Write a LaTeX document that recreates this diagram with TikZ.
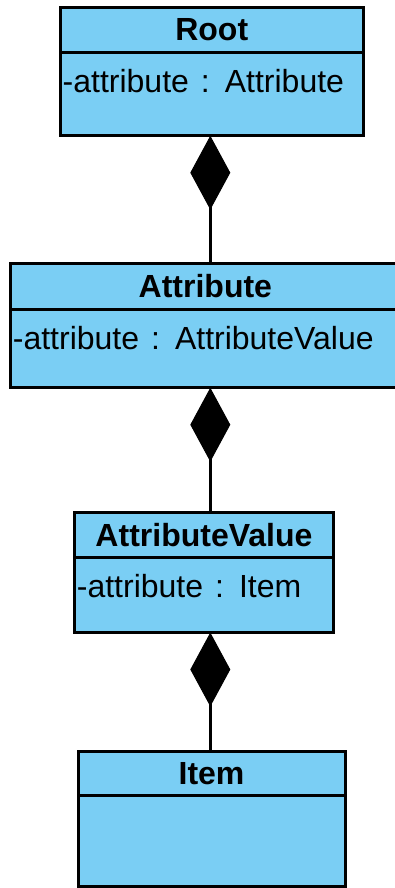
\documentclass[tikz,border=0pt]{standalone}
\usepackage{fontspec}
\setmainfont{Liberation Sans}
\newfontfamily\memberfont[WordSpace=1.35]{Liberation Sans}
\usetikzlibrary{positioning, arrows.meta}
\definecolor{classblue}{RGB}{122,206,244}

\begin{document}
\begin{tikzpicture}[x=1pt, y=-1pt,
    classhead/.style={draw, fill=classblue, line width=3pt, inner sep=0pt, outer sep=0pt,
      anchor=north west, font=\bfseries\fontsize{32}{38}\selectfont},
    classbody/.style={draw, fill=classblue, line width=3pt, inner sep=0pt, outer sep=0pt,
      anchor=north west},
    member/.style={inner sep=0pt, anchor=base west, font=\memberfont\fontsize{32}{38}\selectfont},
    composite/.style={line width=3pt, -{Diamond[length=74pt, width=40pt, line width=1pt]}}]
  \useasboundingbox (0,0) rectangle (395,888);

  % Root
  \node[classhead, minimum width=302.5pt, minimum height=44.8pt] (root) at (60.5,7.5) {Root};
  \node[classbody, minimum width=302.5pt, minimum height=83.4pt] (rootbody) at (root.south west) {};
  \node[member] (rootattr) at ([shift={(2,40)}]rootbody.north west) {-attribute : Attribute};

  % Attribute
  \node[classhead, minimum width=389.3pt, minimum height=46pt] (attr) at (10.7,263.3) {Attribute};
  \node[classbody, minimum width=389.3pt, minimum height=78.4pt] (attrbody) at (attr.south west) {};
  \node[member] (attrattr) at ([shift={(2,40)}]attrbody.north west) {-attribute : AttributeValue};

  % AttributeValue
  \node[classhead, minimum width=258.5pt, minimum height=45pt] (value) at (74.7,512.5) {AttributeValue};
  \node[classbody, minimum width=258.5pt, minimum height=75pt] (valuebody) at (value.south west) {};
  \node[member] (valueattr) at ([shift={(2,40)}]valuebody.north west) {-attribute : Item};

  % Item
  \node[classhead, minimum width=267pt, minimum height=44.3pt] (item) at (78,751.5) {Item};
  \node[classbody, minimum width=267pt, minimum height=91pt] (itembody) at (item.south west) {};

  % Compositions
  \coordinate (spine) at (210.3,0);
  \draw[composite] (spine |- attr.north) -- (spine |- rootbody.south);
  \draw[composite] (spine |- value.north) -- (spine |- attrbody.south);
  \draw[composite] (spine |- item.north) -- (spine |- valuebody.south);
\end{tikzpicture}
\end{document}
